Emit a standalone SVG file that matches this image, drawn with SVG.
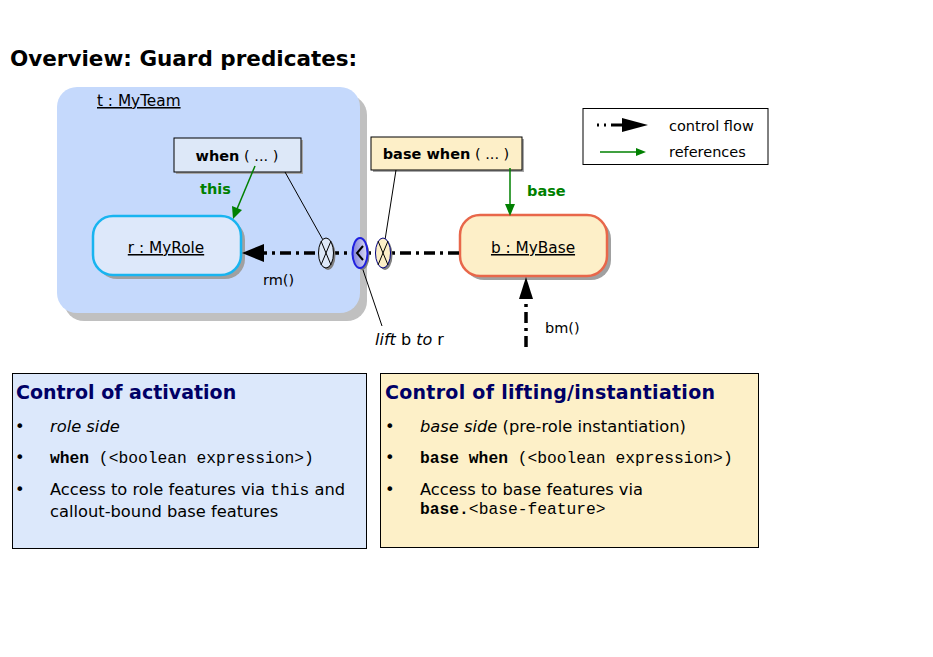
<svg xmlns="http://www.w3.org/2000/svg" width="933" height="657" viewBox="0 0 933 657">
<style>
.t{font-family:"DejaVu Sans",Verdana,sans-serif;fill:#000}
.b{font-weight:bold}
.g{fill:#008000;font-weight:bold}
.m{font-family:"Liberation Mono","Courier New",monospace}
.h{font-family:"DejaVu Sans",Verdana,sans-serif;font-weight:bold;fill:#000066;font-size:19px}
.cf{stroke:#000;stroke-width:3.5;fill:none;stroke-dasharray:11 5 3 5}
.ref{stroke:#008000;stroke-width:1.5;fill:none}
.thin{stroke:#000;stroke-width:1;fill:none}
</style>
<defs>
<linearGradient id="lg" x1="0" y1="0" x2="1" y2="0">
<stop offset="0" stop-color="#8080d8"/><stop offset="1" stop-color="#dcdcf4"/>
</linearGradient>
</defs>
<rect width="933" height="657" fill="#fff"/>
<text class="t b" x="10" y="66" font-size="21.5">Overview: Guard predicates:</text>

<g id="team">
<rect x="64" y="95" width="303" height="226" rx="20" fill="#c0c0c0"/>
<rect x="57" y="87" width="303" height="226" rx="20" fill="#c5d9fc"/>
<text class="t" x="97" y="106" font-size="15.3" text-decoration="underline">t : MyTeam</text>
</g>

<g id="legend">
<rect x="583" y="108.5" width="185" height="56" fill="#fff" stroke="#000"/>
<line x1="597" y1="125" x2="622" y2="125" stroke="#000" stroke-width="3" stroke-dasharray="2 5 2 5 12 0"/>
<polygon points="622,118 648,125 622,132" fill="#000"/>
<text class="t" x="669" y="131" font-size="14.5">control flow</text>
<line x1="600" y1="152" x2="640" y2="152" class="ref"/>
<polygon points="636,148 646,152 636,156" fill="#008000"/>
<text class="t" x="669" y="157" font-size="14.5">references</text>
</g>

<g id="when">
<rect x="176" y="140" width="127" height="34" fill="#a8a8a8"/>
<rect x="174" y="138" width="127" height="34" fill="#dde8f8" stroke="#000"/>
<text class="t" x="237" y="161" font-size="14.5" text-anchor="middle"><tspan font-weight="bold">when</tspan> ( ... )</text>
</g>

<g id="basewhen">
<rect x="373" y="139" width="151" height="33" fill="#a8a8a8"/>
<rect x="371" y="137" width="151" height="33" fill="#fdefc8" stroke="#000"/>
<text class="t" x="446" y="159" font-size="14.5" text-anchor="middle"><tspan font-weight="bold">base when</tspan> ( ... )</text>
</g>

<g id="role">
<rect x="97" y="220" width="148" height="59" rx="20" fill="#a0a0a0"/>
<rect x="93" y="216" width="148" height="59" rx="20" fill="#dde8fa" stroke="#18b4f0" stroke-width="2.5"/>
<text class="t" x="166" y="253" font-size="15.3" text-anchor="middle" text-decoration="underline">r : MyRole</text>
</g>

<g id="base">
<rect x="464" y="219" width="147" height="61" rx="20" fill="#a0a0a0"/>
<rect x="460" y="215" width="147" height="61" rx="20" fill="#fdefc8" stroke="#e8674a" stroke-width="2.5"/>
<text class="t" x="533" y="253" font-size="15.3" text-anchor="middle" text-decoration="underline">b : MyBase</text>
</g>

<g id="connectors">
<line x1="459" y1="253" x2="263" y2="253" class="cf"/>
<polygon points="242,253 264,244 264,262" fill="#000"/>
<text class="t" x="263" y="285" font-size="14.5">rm()</text>
<line x1="526" y1="347" x2="526" y2="297" class="cf" stroke-dasharray="11 5 3 5"/>
<polygon points="526,277 519,299 533,299" fill="#000"/>
<text class="t" x="545" y="333" font-size="14.5">bm()</text>
<line x1="255" y1="166" x2="237" y2="209" class="ref"/>
<polygon points="233,219 232,206 242,210" fill="#008000"/>
<text class="t g" x="200" y="194" font-size="14.5">this</text>
<line x1="510" y1="168" x2="510" y2="206" class="ref"/>
<polygon points="510,216 505,204 515,204" fill="#008000"/>
<text class="t g" x="527" y="196" font-size="14.5">base</text>
<line x1="285" y1="172" x2="323" y2="240" class="thin"/>
<line x1="396" y1="170" x2="385" y2="240" class="thin"/>
<line x1="362" y1="267" x2="382" y2="326" class="thin"/>
</g>

<g id="guard-when">
<ellipse cx="328" cy="255" rx="7.5" ry="15" fill="#808080"/>
<ellipse cx="326" cy="253" rx="7.5" ry="15" fill="#dde8f8" stroke="#000"/>
<path d="M321,241 L331,265 M331,241 L321,265" class="thin" stroke-width="0.8"/>
</g>
<g id="lift">
<ellipse cx="362" cy="255" rx="7.5" ry="15" fill="#808080"/>
<ellipse cx="360" cy="253" rx="7.5" ry="15" fill="url(#lg)" stroke="#2020e0" stroke-width="2"/>
<path d="M363,246 L357,253 L363,260" stroke="#000" stroke-width="2" fill="none"/>
</g>
<g id="guard-basewhen">
<ellipse cx="385" cy="255" rx="7.5" ry="15" fill="#808080"/>
<ellipse cx="383" cy="253" rx="7.5" ry="15" fill="#fdefc8" stroke="#000080"/>
<path d="M378,241 L388,265 M388,241 L378,265" class="thin" stroke-width="0.8"/>
</g>
<text class="t" x="375" y="345" font-size="16"><tspan font-style="italic">lift</tspan> b <tspan font-style="italic">to</tspan> r</text>

<g id="activation">
<rect x="12.5" y="373.5" width="354" height="175" fill="#dce8fb" stroke="#000"/>
<text class="h" x="16" y="399">Control of activation</text>
<g class="t" font-size="16.3">
<text x="15" y="432">•</text><text x="50" y="432" font-style="italic">role side</text>
<text x="15" y="463">•</text><text x="50" y="463" class="m" font-size="16.3"><tspan font-weight="bold">when</tspan> (&lt;boolean expression&gt;)</text>
<text x="15" y="495">•</text><text x="50" y="495">Access to role features via <tspan class="m" font-size="16.3">this</tspan> and</text>
<text x="50" y="517">callout-bound base features</text>
</g>
</g>

<g id="lifting">
<rect x="380.5" y="373.5" width="378" height="174" fill="#fdf0c8" stroke="#000"/>
<text class="h" x="385" y="399" textLength="330" lengthAdjust="spacing">Control of lifting/instantiation</text>
<g class="t" font-size="16.3">
<text x="385" y="432">•</text><text x="420" y="432"><tspan font-style="italic">base side</tspan> (pre-role instantiation)</text>
<text x="385" y="463">•</text><text x="420" y="463" class="m" font-size="16.3"><tspan font-weight="bold">base when</tspan> (&lt;boolean expression&gt;)</text>
<text x="385" y="495">•</text><text x="420" y="495">Access to base features via</text>
<text x="420" y="514" class="m" font-size="16.3"><tspan font-weight="bold">base.</tspan>&lt;base-feature&gt;</text>
</g>
</g>
</svg>
